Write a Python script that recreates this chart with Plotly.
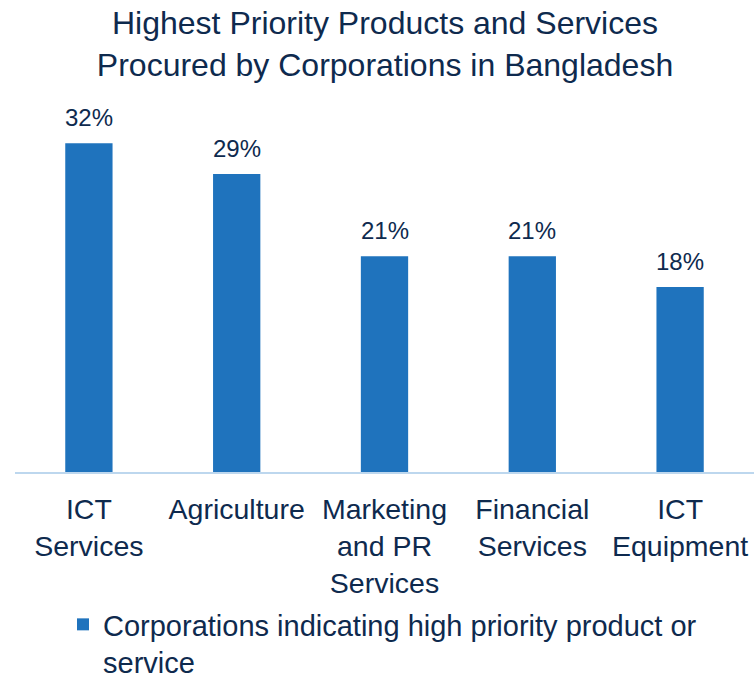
import plotly.graph_objects as go

# Survey results: share of corporations naming each category as a top priority
categories = ["ICT<br>Services", "Agriculture", "Marketing<br>and PR<br>Services",
              "Financial<br>Services", "ICT<br>Equipment"]
shares = [32, 29, 21, 21, 18]
series_name = "Corporations indicating high priority product or<br>service"
title_text = "Highest Priority Products and Services<br>Procured by Corporations in Bangladesh"

BAR = "#1F73BD"
INK = "#0E2A4E"
FONT = "Liberation Sans, Arial, sans-serif"

fig = go.Figure()
fig.add_trace(go.Bar(
    x=categories,
    y=shares,
    name=series_name,
    marker=dict(color=BAR, line=dict(width=0)),
    showlegend=True,
))

# value labels above each bar
for cat, val in zip(categories, shares):
    fig.add_annotation(
        x=cat, y=val, xref="x", yref="y",
        text=f"{val}%", showarrow=False,
        yanchor="bottom", yshift=10,
        font=dict(family=FONT, size=24, color=INK),
    )

fig.update_layout(
    width=754, height=679,
    margin=dict(l=15, r=0, t=100, b=207),
    paper_bgcolor="white", plot_bgcolor="white",
    bargap=0.68,
    font=dict(family=FONT, color=INK),
    title=dict(
        text=title_text,
        x=385 / 754, xanchor="center", xref="container",
        y=1 - 34 / 679, yanchor="top", yref="container",
        font=dict(family=FONT, size=32, color=INK),
    ),
    xaxis=dict(
        showline=True, linecolor="#BDD7EE", linewidth=2,
        showgrid=False, zeroline=False,
        ticks="", ticklabelstandoff=11,
        tickfont=dict(family=FONT, size=28.5, color=INK),
    ),
    yaxis=dict(
        range=[0, 36.2], visible=False, showgrid=False, zeroline=False,
    ),
    legend=dict(
        orientation="h",
        xref="container", yref="container",
        x=63 / 754, xanchor="left",
        y=1 - 599 / 679, yanchor="top",
        valign="top",
        font=dict(family=FONT, size=29, color=INK),
        bgcolor="rgba(0,0,0,0)",
    ),
)

fig.write_html("out.html")
